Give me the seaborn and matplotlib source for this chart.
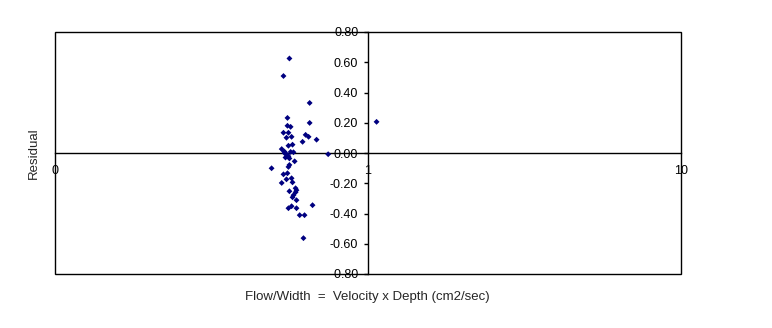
import matplotlib
matplotlib.use("Agg")
import matplotlib.pyplot as plt
from matplotlib.patches import Rectangle
import seaborn as sns
import pandas as pd

flow_per_width = [
    0.561, 0.537, 0.651, 0.553, 0.651, 0.553, 0.566, 0.537, 0.557, 0.549,
    0.570, 0.632, 0.646, 0.685, 0.618, 0.557, 0.574, 0.530, 0.541, 0.541,
    0.549, 0.557, 0.566, 0.578, 0.561, 0.746, 1.065, 0.583, 0.561, 0.557,
    0.492, 0.537, 0.553, 0.549, 0.570, 0.530, 0.574, 0.587, 0.591, 0.561,
    0.587, 0.578, 0.574, 0.591, 0.665, 0.570, 0.557, 0.591, 0.605, 0.627,
    0.622, 0.553, 0.545,
]
residual = [
    0.625, 0.509, 0.331, 0.232, 0.199, 0.180, 0.173, 0.134, 0.134, 0.101,
    0.107, 0.120, 0.107, 0.088, 0.074, 0.048, 0.055, 0.026, 0.009, 0.000,
    -0.009, -0.022, 0.007, 0.005, -0.036, -0.008, 0.206, -0.055, -0.079, -0.092,
    -0.101, -0.141, -0.134, -0.174, -0.167, -0.198, -0.194, -0.233, -0.246, -0.253,
    -0.260, -0.279, -0.293, -0.312, -0.345, -0.352, -0.365, -0.365, -0.411, -0.411,
    -0.563, -0.015, -0.030,
]
x_ticks = [0.1, 1, 10]
x_tick_labels = ["0", "1", "10"]
y_ticks = [-0.8, -0.6, -0.4, -0.2, 0.0, 0.2, 0.4, 0.6, 0.8]
y_tick_labels = ["-0.80", "-0.60", "-0.40", "-0.20", "0.00", "0.20", "0.40", "0.60", "0.80"]

df = pd.DataFrame({"x": flow_per_width, "y": residual})

sns.set_style("white")
plt.rcParams["font.family"] = ["Liberation Sans", "DejaVu Sans"]

fig = plt.figure(figsize=(7.72, 3.28), dpi=100)
ax = fig.add_axes([55 / 772, (328 - 274) / 328, 626 / 772, 242 / 328])

sns.scatterplot(data=df, x="x", y="y", ax=ax, marker="D", s=9,
                color="#000080", edgecolor="none", linewidth=0, zorder=3)

ax.set_xscale("log")
ax.set_xlim(0.1, 10)
ax.set_ylim(-0.8, 0.8)

ax.spines["left"].set_position(("data", 1))
ax.spines["bottom"].set_position(("data", 0))
ax.spines["top"].set_visible(False)
ax.spines["right"].set_visible(False)
for s in ["left", "bottom"]:
    ax.spines[s].set_color("black")
    ax.spines[s].set_linewidth(1.0)
ax.add_patch(Rectangle((0, 0), 1, 1, transform=ax.transAxes, fill=False,
                       edgecolor="black", linewidth=1.0, clip_on=False, zorder=5))

ax.set_xticks(x_ticks)
ax.set_xticklabels(x_tick_labels)
ax.minorticks_off()
ax.set_yticks(y_ticks)
ax.set_yticklabels(y_tick_labels)
ax.tick_params(axis="x", length=0, pad=9, labelsize=9, colors="black")
ax.tick_params(axis="y", length=3, width=1, pad=4, labelsize=9, colors="black",
               direction="out", left=True)

ax.set_xlabel("")
ax.set_ylabel("")
fig.text(367 / 772, 1 - 297 / 328, "Flow/Width  =  Velocity x Depth (cm2/sec)",
         ha="center", va="center", fontsize=9.5)
fig.text(34 / 772, 1 - 153 / 328, "Residual", ha="center", va="center",
         rotation=90, fontsize=9.5)

fig.savefig("out.png", dpi=100)
